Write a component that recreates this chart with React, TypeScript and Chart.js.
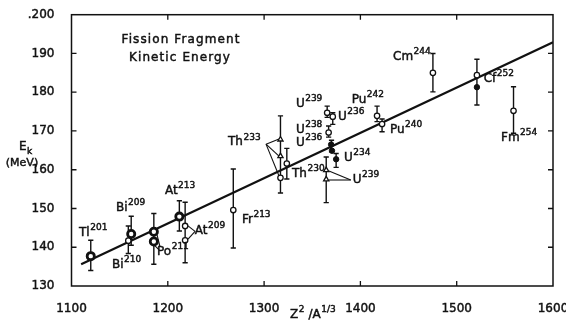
import React, { useEffect, useRef } from "react";
import { Chart, registerables } from "chart.js";

Chart.register(...registerables);

// ---- data ----
const xTicksMin = 1100;
const xTicksMax = 1600;
const yTicksMin = 130;
const yTicksMax = 200;

const fitX = [1110, 1600];
const fitY = [135.6, 192.9];

const boldCircleX = [1120, 1162, 1185.5, 1185.5, 1212];
const boldCircleY = [137.7, 143.4, 144.0, 141.5, 147.9];

const openCircleX = [1159, 1218, 1218, 1268, 1317, 1323.6, 1365.5, 1371.3, 1367, 1417.3, 1422.5, 1475.3, 1521, 1559];
const openCircleY = [141.7, 145.5, 141.8, 149.6, 157.9, 161.6, 174.7, 173.7, 169.6, 173.9, 171.8, 185.0, 184.4, 175.2];

const triangleX = [1317, 1317, 1364.5, 1364.5];
const triangleY = [167.8, 163.5, 159.9, 157.5];

const filledX = [1369.6, 1370.5, 1374.8, 1521];
const filledY = [166.5, 164.9, 162.7, 181.3];

const errX = [1120, 1162, 1159, 1185.5, 1212, 1218, 1268, 1317, 1323.6, 1365.5, 1371.3, 1367, 1370, 1374.8, 1364.5, 1417.3, 1422.5, 1475.3, 1521, 1559];
const errLow = [134.0, 140.5, 138.4, 135.6, 144.2, 136.0, 139.8, 154.0, 157.6, 173.5, 171.7, 168.4, 164.6, 160.6, 151.5, 172.4, 169.8, 180.1, 176.7, 169.4];
const errHigh = [141.8, 148.0, 145.5, 148.7, 152.0, 151.6, 160.2, 173.9, 165.5, 176.4, 174.7, 171.3, 167.6, 164.2, 163.3, 176.4, 173.1, 190.0, 188.5, 181.4];

const labelBase = ["Tl", "Bi", "Bi", "Po", "At", "At", "Fr", "Th", "Th", "U", "U", "U", "U", "U", "U", "Pu", "Pu", "Cm", "Cf", "Fm"];
const labelSup = ["201", "209", "210", "211", "213", "209", "213", "233", "230", "239", "236", "238", "236", "234", "239", "242", "240", "244", "252", "254"];
const labelX = [1107.8, 1146.2, 1142, 1188.8, 1197, 1228, 1277, 1262.5, 1329, 1333, 1376.8, 1333, 1333, 1383, 1392, 1391, 1430.7, 1433.9, 1528, 1546];
const labelY = [143.7, 150.1, 135.4, 138.8, 154.5, 144.2, 147.0, 167.1, 158.9, 176.96, 173.6, 170.3, 166.9, 163.0, 157.4, 178.0, 170.3, 189.1, 183.4, 168.2];

// leader lines: [x1, y1, x2, y2] in data units
const leaderX1 = [1188.8, 1186.5, 1228.3, 1228.3, 1302, 1302, 1302, 1390, 1390];
const leaderY1 = [143.2, 140.4, 144.1, 144.1, 166.6, 166.6, 166.6, 157.35, 157.35];
const leaderX2 = [1191.9, 1191.0, 1221, 1221, 1315.5, 1315.5, 1315.5, 1367.4, 1367.4];
const leaderY2 = [140.1, 139.3, 145.5, 142.1, 167.9, 163.5, 158.4, 159.7, 157.35];

const frameTicksX = [1200, 1300, 1400, 1500];
const frameTicksY = [140, 150, 160, 170, 180, 190];

const titleLines = ["Fission Fragment", "Kinetic Energy"];

const INK = "#111111";
const FONT = '"DejaVu Sans", sans-serif';
const SW = 0.45;

const pts = (xs: number[], ys: number[]) => xs.map((x, i) => ({ x, y: ys[i] }));

function txt(ctx: CanvasRenderingContext2D, s: string, x: number, y: number) {
  ctx.fillText(s, x, y);
  ctx.strokeText(s, x, y);
}

const overlayPlugin = {
  id: "overlay",
  beforeDatasetsDraw(chart: any) {
    const { ctx, scales } = chart;
    const xs = scales.x, ys = scales.y;
    ctx.save();
    ctx.strokeStyle = INK;
    ctx.lineWidth = 1.4;
    for (let i = 0; i < errX.length; i++) {
      const px = xs.getPixelForValue(errX[i]);
      const p1 = ys.getPixelForValue(errLow[i]);
      const p2 = ys.getPixelForValue(errHigh[i]);
      ctx.beginPath();
      ctx.moveTo(px, p1); ctx.lineTo(px, p2);
      ctx.moveTo(px - 2.6, p1); ctx.lineTo(px + 2.6, p1);
      ctx.moveTo(px - 2.6, p2); ctx.lineTo(px + 2.6, p2);
      ctx.stroke();
    }
    ctx.lineWidth = 1.1;
    for (let i = 0; i < leaderX1.length; i++) {
      ctx.beginPath();
      ctx.moveTo(xs.getPixelForValue(leaderX1[i]), ys.getPixelForValue(leaderY1[i]));
      ctx.lineTo(xs.getPixelForValue(leaderX2[i]), ys.getPixelForValue(leaderY2[i]));
      ctx.stroke();
    }
    ctx.restore();
  },
  afterDraw(chart: any) {
    const { ctx, scales, chartArea } = chart;
    const xs = scales.x, ys = scales.y;
    const { left, right, top, bottom } = chartArea;
    ctx.save();
    // frame
    ctx.strokeStyle = INK;
    ctx.lineWidth = 1.5;
    ctx.strokeRect(left, top, right - left, bottom - top);
    ctx.lineWidth = 1.3;
    ctx.beginPath();
    for (const v of frameTicksX) {
      const px = xs.getPixelForValue(v);
      ctx.moveTo(px, bottom); ctx.lineTo(px, bottom - 5);
      ctx.moveTo(px, top); ctx.lineTo(px, top + 5);
    }
    for (const v of frameTicksY) {
      const py = ys.getPixelForValue(v);
      ctx.moveTo(left, py); ctx.lineTo(left + 5, py);
      ctx.moveTo(right, py); ctx.lineTo(right - 5, py);
    }
    ctx.stroke();

    ctx.fillStyle = INK;
    ctx.lineWidth = SW;
    ctx.textBaseline = "middle";
    // point labels
    for (let i = 0; i < labelBase.length; i++) {
      const px = xs.getPixelForValue(labelX[i]);
      const py = ys.getPixelForValue(labelY[i]);
      ctx.textAlign = "left";
      ctx.font = `12px ${FONT}`;
      txt(ctx, labelBase[i], px, py);
      const w = ctx.measureText(labelBase[i]).width;
      ctx.font = `9px ${FONT}`;
      txt(ctx, labelSup[i], px + w + 0.5, py - 5);
    }
    // title
    ctx.font = `12px ${FONT}`;
    ctx.textAlign = "center";
    (ctx as any).letterSpacing = "1.1px";
    txt(ctx, titleLines[0], 181, 40);
    txt(ctx, titleLines[1], 180, 58);
    (ctx as any).letterSpacing = "0px";

    // y-axis title
    ctx.textAlign = "left";
    ctx.font = `12px ${FONT}`;
    txt(ctx, "E", 19, 147);
    ctx.font = `9px ${FONT}`;
    txt(ctx, "k", 27, 152);
    ctx.font = `11px ${FONT}`;
    ctx.textAlign = "center";
    txt(ctx, "(MeV)", 22, 163);

    // x-axis title
    ctx.textAlign = "left";
    let x = 290;
    const yb = 315;
    ctx.font = `12px ${FONT}`;
    txt(ctx, "Z", x, yb);
    x += ctx.measureText("Z").width + 0.5;
    ctx.font = `9px ${FONT}`;
    txt(ctx, "2", x, yb - 5);
    x += ctx.measureText("2").width + 4;
    ctx.font = `12px ${FONT}`;
    txt(ctx, "/A", x, yb);
    x += ctx.measureText("/A").width + 0.5;
    ctx.font = `9px ${FONT}`;
    txt(ctx, "1/3", x, yb - 5);
    ctx.restore();
  },
};

export default function App() {
  const ref = useRef<HTMLCanvasElement>(null);
  useEffect(() => {
    if (!ref.current) return;
    const tickFont = { family: FONT, size: 12 };
    const chart = new Chart(ref.current, {
      type: "scatter",
      data: {
        datasets: [
          {
            data: pts(boldCircleX, boldCircleY),
            pointRadius: 3.6,
            pointBorderWidth: 2.8,
            pointBackgroundColor: "#fff",
            pointBorderColor: INK,
          } as any,
          {
            data: pts(openCircleX, openCircleY),
            pointRadius: 2.7,
            pointBorderWidth: 1.3,
            pointBackgroundColor: "#fff",
            pointBorderColor: INK,
          },
          {
            data: pts(triangleX, triangleY),
            pointStyle: "triangle",
            pointRadius: 3,
            pointBorderWidth: 1.3,
            pointBackgroundColor: "#fff",
            pointBorderColor: INK,
          },
          {
            data: pts(filledX, filledY),
            pointRadius: 2.7,
            pointBorderWidth: 1,
            pointBackgroundColor: INK,
            pointBorderColor: INK,
          },
          {
            type: "line",
            data: pts(fitX, fitY),
            borderColor: INK,
            borderWidth: 2.2,
            pointRadius: 0,
            showLine: true,
            order: 10,
          } as any,
        ],
      },
      options: {
        animation: false,
        responsive: false,
        events: [],
        layout: { padding: { left: 0, top: 14.7, right: 13, bottom: 0 } },
        plugins: { legend: { display: false }, tooltip: { enabled: false } },
        scales: {
          x: {
            type: "linear",
            min: xTicksMin,
            max: xTicksMax,
            grid: { display: false },
            border: { display: false },
            ticks: {
              stepSize: 100,
              padding: 8,
              color: INK,
              textStrokeColor: INK,
              textStrokeWidth: SW,
              maxRotation: 0,
              font: tickFont,
              callback: (v: any) => String(v),
            },
            afterFit: (s: any) => { s.height = 40; s.paddingLeft = 0; s.paddingRight = 0; },
          },
          y: {
            type: "linear",
            min: yTicksMin,
            max: yTicksMax,
            grid: { display: false },
            border: { display: false },
            ticks: {
              stepSize: 10,
              padding: 9,
              color: INK,
              textStrokeColor: INK,
              textStrokeWidth: SW,
              font: tickFont,
              callback: (v: any) => (v === 200 ? ".200" : String(v)),
            },
            afterFit: (s: any) => { s.width = 71.5; s.paddingTop = 0; s.paddingBottom = 0; },
          },
        },
      },
      plugins: [overlayPlugin],
    });
    return () => chart.destroy();
  }, []);
  return (
    <div style={{ position: "absolute", left: 0, top: 0, width: 566, height: 326, background: "#fff" }}>
      <canvas ref={ref} width={566} height={326} style={{ display: "block" }} />
    </div>
  );
}
